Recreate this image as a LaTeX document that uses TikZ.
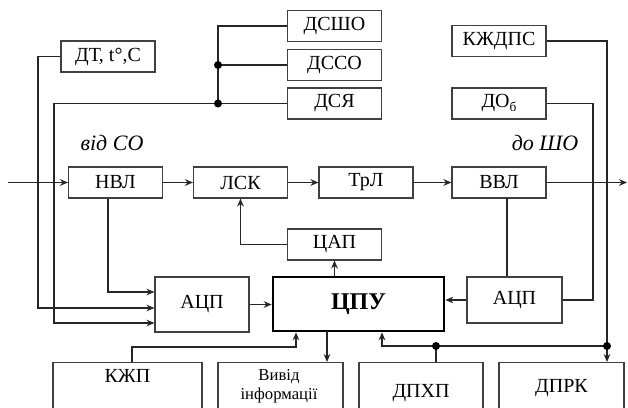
\documentclass[tikz,border=0pt]{standalone}
\usepackage{fontspec}
\setmainfont{Liberation Serif}
\usetikzlibrary{arrows.meta}
\begin{document}
\begin{tikzpicture}[x=0.75pt,y=-0.75pt,
  box/.style={draw=black!75, line width=0.8pt, rectangle, inner sep=0pt, font=\fontsize{15}{17}\selectfont},
  sbox/.style={box, minimum width=70.5pt, minimum height=23.25pt},
  txt/.style={inner sep=0pt, font=\fontsize{15}{17}\selectfont},
  conn/.style={line width=1.2pt, black!85},
  arr/.style={conn, -{Stealth[length=6pt,width=5pt]}},
  dot/.style={circle, fill=black, inner sep=0pt, minimum size=6pt}]
\useasboundingbox (0,0) rectangle (628,407);
\clip (0,0) rectangle (628,407);
% top boxes
\node[sbox] (dt) at (108,56.5) {ДТ, t°,C};
\node[sbox] (dsho) at (334.5,26) {ДСШО};
\node[sbox] (dsso) at (334.5,65) {ДССО};
\node[sbox] (dsya) at (334.5,103.5) {ДСЯ};
\node[sbox] (kzhdps) at (499,41) {КЖДПС};
\node[sbox] (dob) at (499,103.5) {ДО\raisebox{-0.35ex}{\fontsize{10}{11}\selectfont б}};
% labels
\node[txt, font=\fontsize{16.5}{18}\selectfont\itshape] (vidso) at (112,143) {від СО};
\node[txt, font=\fontsize{16.5}{18}\selectfont\itshape] (doso) at (545,143) {до ШО};
% main row
\node[sbox] (nvl) at (115.5,182.5) {НВЛ};
\node[sbox] (lsk) at (240.5,182.5) {ЛСК};
\node[sbox] (trl) at (366,182.5) {ТрЛ};
\node[sbox] (vvl) at (499,182.5) {ВВЛ};
\node[sbox] (tsap) at (334.5,244.5) {ЦАП};
\node[box, minimum width=70.5pt, minimum height=41.25pt] (adc1) at (202,304.5) {АЦП};
\node[box, line width=2pt, draw=black, minimum width=128.25pt, minimum height=40.5pt, font=\fontsize{18}{20}\selectfont\bfseries] (cpu) at (358.5,304) {ЦПУ};
\node[box, minimum width=71.25pt, minimum height=34.5pt] (adc2) at (514.5,300) {АЦП};
% bottom boxes
\node[box, anchor=north, minimum width=111.75pt, minimum height=45pt] (kzhp) at (127.5,362) {};
\node[box, anchor=north, minimum width=93.75pt, minimum height=45pt] (vyvid) at (280.5,362) {};
\node[box, anchor=north, minimum width=93pt, minimum height=45pt] (dphp) at (421,362) {};
\node[box, anchor=north, minimum width=93.75pt, minimum height=45pt] (dprk) at (561.5,362) {};
\node[txt] (kzhpt) at (127.5,376) {КЖП};
\node[txt, align=center, font=\fontsize{12.5}{14}\selectfont] (vyvidt) at (279,386) {Вивід\\інформації};
\node[txt] (dphpt) at (421,393) {ДПХП};
\node[txt] (dprkt) at (561.5,388) {ДПРК};
% coordinates
\coordinate (j1) at (38,308);
\coordinate (j2) at (54,323);
\coordinate (dA) at (218,65);
\coordinate (dB) at (218,103.5);
\coordinate (in) at (8,182.5);
\coordinate (out) at (627,182.5);
\coordinate (j3) at (108,292);
\coordinate (j4) at (593,300);
\coordinate (j5) at (607,346);
\coordinate (j6) at (382,346);
\coordinate (j7) at (436,346);
\coordinate (j8) at (132,347);
\coordinate (j9) at (296,347);
\coordinate (j10) at (327,331);
\coordinate (j11) at (507,198);
% sensors
\draw[arr] (dt.west) -| (j1) -- (j1 -| adc1.west);
\draw[arr] (dsya.west) -| (j2) -- (j2 -| adc1.west);
\draw[conn] (dsho.west) -| (dB);
\draw[conn] (dsso.west) -- (dA);
\node[dot] (dotA) at (dA) {};
\node[dot] (dotB) at (dB) {};
% main chain
\draw[arr] (in) -- (nvl.west);
\draw[arr] (nvl) -- (lsk);
\draw[arr] (lsk) -- (trl);
\draw[arr] (trl) -- (vvl);
\draw[arr] (vvl.east) -- (out);
\draw[arr] (tsap.west) -| (lsk.south);
\draw[arr] (nvl.south -| j3) |- (j3 -| adc1.west);
\draw[arr] (adc1.east) -- (adc1.east -| cpu.west);
\draw[arr] (cpu.north -| tsap.south) -- (tsap.south);
\draw[arr] (adc2.west) -- (adc2.west -| cpu.east);
\draw[conn] (j11) -- (j11 |- adc2.north);
\draw[conn] (dob.east) -| (j4) -- (adc2.east);
\draw[conn] (kzhdps.east) -| (j5);
\draw[arr] (j5) -- (j5 |- dprk.north);
\draw[arr] (j5) -- (j6) -- (j6 |- cpu.south);
\draw[conn] (dphp.north -| j7) -- (j7);
\node[dot] (dotC) at (j5) {};
\node[dot] (dotD) at (j7) {};
\draw[arr] (kzhp.north -| j8) -- (j8) -- (j9) -- (j9 |- cpu.south);
\draw[arr] (j10) -- (j10 |- vyvid.north);
\end{tikzpicture}
\end{document}
